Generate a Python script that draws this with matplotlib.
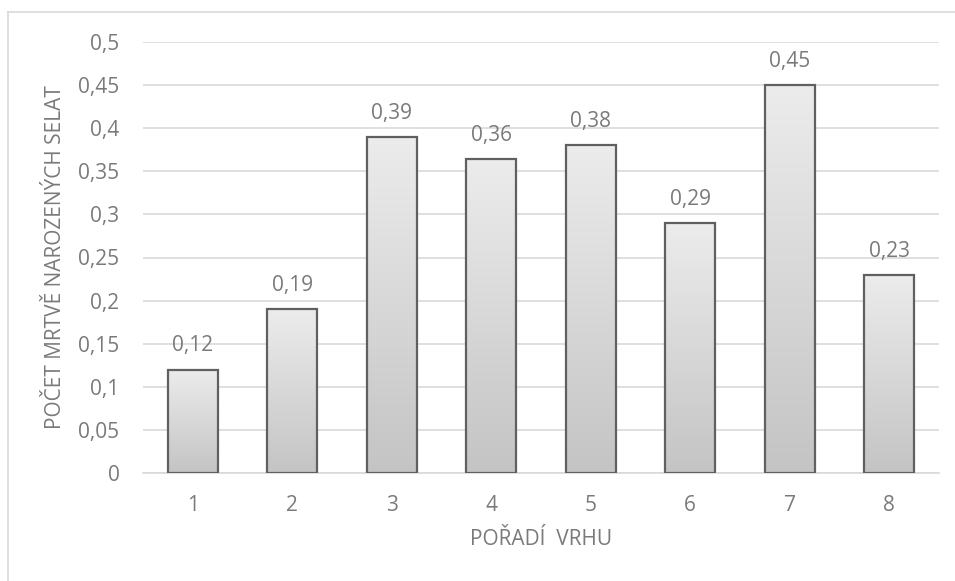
import numpy as np
import matplotlib
matplotlib.use("Agg")
import matplotlib.pyplot as plt
from matplotlib.lines import Line2D

# data
categories = ["1", "2", "3", "4", "5", "6", "7", "8"]
values = [0.12, 0.19, 0.39, 0.364, 0.38, 0.29, 0.45, 0.23]
yticks = [0, 0.05, 0.1, 0.15, 0.2, 0.25, 0.3, 0.35, 0.4, 0.45, 0.5]

plt.rcParams["font.family"] = ["Open Sans", "DejaVu Sans"]
TXT = "#7a7a7a"
FS = 15

fig = plt.figure(figsize=(9.55, 5.81), dpi=100)
ax = fig.add_axes([143 / 955, 1 - 473 / 581, (939 - 143) / 955, (473 - 42) / 581])

x = np.arange(len(categories))
bars = ax.bar(x, values, width=0.5, facecolor="none", edgecolor="#606060",
              linewidth=1.6, zorder=3)

# vertical gradient fill, light at top, darker at bottom (per bar)
grad = np.linspace(0, 1, 256).reshape(-1, 1)
cmap = matplotlib.colors.LinearSegmentedColormap.from_list("g", ["#c4c4c4", "#ececec"])
for b in bars:
    x0, w, h = b.get_x(), b.get_width(), b.get_height()
    im = ax.imshow(grad, cmap=cmap, aspect="auto", origin="lower",
                   extent=[x0, x0 + w, 0, h], zorder=2)
    im.set_clip_path(b)

for xi, v in zip(x, values):
    ax.text(xi, v + 0.021, f"{v:.2f}".replace(".", ","), ha="center", va="baseline",
            fontsize=FS, color=TXT)

ax.set_xlim(-0.5, len(categories) - 0.5)
ax.set_ylim(0, 0.5)
ax.set_xticks(x)
ax.set_xticklabels(categories)
ax.set_yticks(yticks)
ax.set_yticklabels([f"{t:g}".replace(".", ",") for t in yticks])
ax.tick_params(length=0, labelsize=FS, labelcolor=TXT)
ax.tick_params(axis="x", pad=16)
ax.tick_params(axis="y", pad=17)
ax.grid(axis="y", color="#d9d9d9", linewidth=1.2, zorder=0)
ax.set_axisbelow(True)
for s in ["top", "right", "left"]:
    ax.spines[s].set_visible(False)
ax.spines["bottom"].set_color("#d9d9d9")
ax.spines["bottom"].set_linewidth(1.2)

ax.set_xlabel("POŘADÍ  VRHU", fontsize=FS, color=TXT, labelpad=9)
ax.set_ylabel("POČET MRTVĚ NAROZENÝCH SELAT", fontsize=FS, color=TXT, labelpad=9)

# chart area border (left and top only visible)
fig.add_artist(Line2D([7.5 / 955, 7.5 / 955], [0, 1 - 12 / 581], color="#d9d9d9", lw=1.2))
fig.add_artist(Line2D([7.5 / 955, 1], [1 - 12 / 581, 1 - 12 / 581], color="#d9d9d9", lw=1.2))

fig.savefig("out.png", dpi=100)
